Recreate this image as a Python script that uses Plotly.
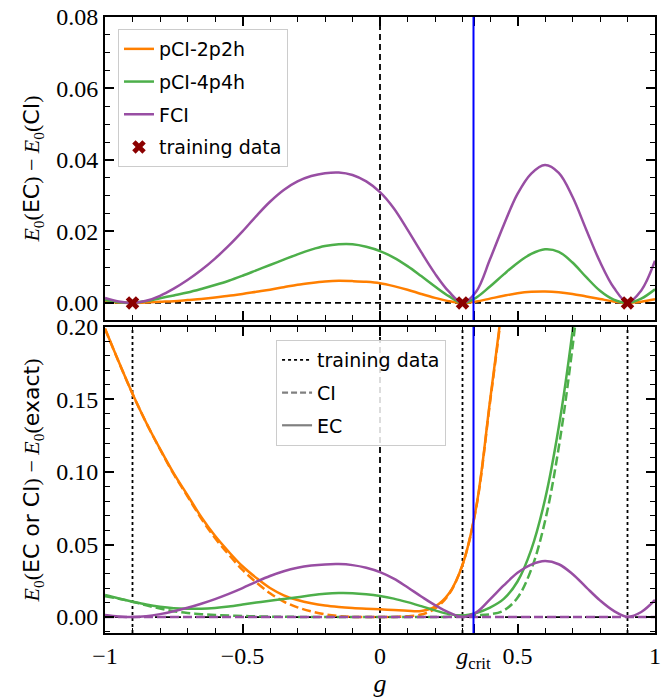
import plotly.graph_objects as go

# ---------------- data ----------------
g = [-1.00, -0.95, -0.90, -0.85, -0.80, -0.75, -0.70, -0.65, -0.60, -0.55,
     -0.50, -0.45, -0.40, -0.35, -0.30, -0.25, -0.20, -0.15, -0.10, -0.05,
     0.00, 0.05, 0.10, 0.15, 0.20, 0.25, 0.30, 0.35, 0.40, 0.45,
     0.50, 0.55, 0.60, 0.65, 0.70, 0.75, 0.80, 0.85, 0.90, 0.95, 1.00]

# E0(EC) - E0(CI)   (top panel)
diff_2p2h = [0.0003, 0.0001, 0.0, 0.0001, 0.0003, 0.0005, 0.0008, 0.0011, 0.0015, 0.0020,
             0.0025, 0.0031, 0.0037, 0.0044, 0.0051, 0.0056, 0.0060, 0.0062, 0.0061, 0.0059,
             0.0055, 0.0047, 0.0037, 0.0025, 0.0014, 0.0005, 0.0, 0.0004, 0.0012, 0.0020,
             0.0027, 0.0031, 0.0032, 0.0030, 0.0025, 0.0018, 0.0011, 0.0004, 0.0, 0.0003, 0.0010]
diff_4p4h = [0.0008, 0.0002, 0.0, 0.0005, 0.0013, 0.0021, 0.0029, 0.0039, 0.0050, 0.0062,
             0.0076, 0.0091, 0.0106, 0.0121, 0.0136, 0.0149, 0.0159, 0.0164, 0.0164, 0.0157,
             0.0145, 0.0127, 0.0103, 0.0075, 0.0046, 0.0019, 0.0, 0.0015, 0.0046, 0.0080,
             0.0112, 0.0137, 0.0150, 0.0143, 0.0113, 0.0072, 0.0034, 0.0009, 0.0, 0.0012, 0.0038]
diff_fci = [0.0014, 0.0004, 0.0, 0.0006, 0.0020, 0.0040, 0.0064, 0.0092, 0.0124, 0.0160,
            0.0200, 0.0243, 0.0283, 0.0316, 0.0340, 0.0355, 0.0363, 0.0365, 0.0358, 0.0340,
            0.0310, 0.0265, 0.0205, 0.0142, 0.0082, 0.0032, 0.0, 0.0032, 0.0122, 0.0218,
            0.0305, 0.0362, 0.0386, 0.0364, 0.0297, 0.0205, 0.0115, 0.0043, 0.0002, 0.0035, 0.0118]

# E0(EC or CI) - E0(exact)   (bottom panel)
ec_2p2h = [0.199, 0.176, 0.154, 0.134, 0.116, 0.099, 0.084, 0.069, 0.056, 0.045,
           0.035, 0.027, 0.020, 0.015, 0.0118, 0.0095, 0.0079, 0.0069, 0.0062, 0.0057,
           0.0053, 0.0048, 0.0043, 0.0042, 0.0072, 0.016, 0.036, 0.076, 0.149, 0.225,
           0.32, None, None, None, None, None, None, None, None, None, None]
ci_2p2h = [0.1987, 0.1759, 0.154, 0.1339, 0.1157, 0.0985, 0.0833, 0.0679, 0.0545, 0.0430,
           0.0325, 0.0239, 0.0164, 0.0107, 0.0067, 0.0039, 0.0019, 0.0007, 0.0001, 0.0,
           0.0, 0.0001, 0.0006, 0.0017, 0.0058, 0.0155, 0.036, 0.0756, 0.1478, 0.2230,
           0.3173, None, None, None, None, None, None, None, None, None, None]
ec_4p4h = [0.0152, 0.0128, 0.0106, 0.0086, 0.0071, 0.0061, 0.0057, 0.0057, 0.0063, 0.0073,
           0.0086, 0.0100, 0.0113, 0.0125, 0.0137, 0.0150, 0.0160, 0.0165, 0.0164, 0.0157,
           0.0145, 0.0127, 0.0103, 0.0075, 0.0046, 0.0020, 0.0010, 0.0028, 0.0065, 0.0125,
           0.0245, 0.0465, 0.081, 0.131, 0.197, 0.28, None, None, None, None, None]
ci_4p4h = [0.0144, 0.0126, 0.0106, 0.0081, 0.0058, 0.0040, 0.0028, 0.0020, 0.0014, 0.0010,
           0.0007, 0.0005, 0.0003, 0.0002, 0.0001, 0.0, 0.0, 0.0, 0.0, 0.0,
           0.0, 0.0, 0.0, 0.0, 0.0, 0.0002, 0.0010, 0.0013, 0.0019, 0.0045,
           0.0133, 0.0328, 0.066, 0.117, 0.186, 0.272, None, None, None, None, None]
ec_fci = diff_fci
ci_fci = [0.0] * len(g)

training_g = [-0.9, 0.3, 0.9]
training_diff = [0.0, 0.0, 0.0]
g_crit = 0.34

x_tickvals = [-1, -0.5, 0, g_crit, 0.5, 1]
x_ticktext = ["\u22121", "\u22120.5", "0", "<i>g</i><sub>crit</sub>", "0.5", "1"]

# ---------------- styling ----------------
C_ORANGE = "#ff7f00"
C_GREEN = "#4daf4a"
C_PURPLE = "#984ea3"
LW = 2.5
SERIF = "Liberation Serif"
SANS = "DejaVu Sans"
SM = 1.0

fig = go.Figure()

# top panel
for name, ys, col, grp in [("pCI-2p2h", diff_2p2h, C_ORANGE, "a"),
                           ("pCI-4p4h", diff_4p4h, C_GREEN, "b"),
                           ("FCI", diff_fci, C_PURPLE, "c")]:
    fig.add_trace(go.Scatter(x=g, y=ys, mode="lines", name=name,
                             line=dict(color=col, width=LW, shape="spline", smoothing=SM),
                             xaxis="x2", yaxis="y2", legend="legend", legendgroup=grp))
fig.add_trace(go.Scatter(x=training_g, y=training_diff, mode="markers", name="training data",
                         marker=dict(symbol="x", size=12, color="#8b0000",
                                     line=dict(width=0)),
                         xaxis="x2", yaxis="y2", legend="legend", legendgroup="d",
                         cliponaxis=False))

# bottom panel
for ys, col, dash in [(ci_2p2h, C_ORANGE, "9px,4px"), (ec_2p2h, C_ORANGE, "solid"),
                      (ci_4p4h, C_GREEN, "9px,4px"), (ec_4p4h, C_GREEN, "solid"),
                      (ec_fci, C_PURPLE, "solid"), (ci_fci, C_PURPLE, "9px,4px")]:
    fig.add_trace(go.Scatter(x=g, y=ys, mode="lines", showlegend=False,
                             line=dict(color=col, width=LW, dash=dash,
                                       shape="spline", smoothing=SM),
                             xaxis="x", yaxis="y"))

# bottom legend entries
fig.add_trace(go.Scatter(x=[None], y=[None], mode="lines", name="training data",
                         line=dict(color="black", width=1.8, dash="dot"),
                         xaxis="x", yaxis="y", legend="legend2", legendgroup="e"))
fig.add_trace(go.Scatter(x=[None], y=[None], mode="lines", name="CI",
                         line=dict(color="#808080", width=2.2, dash="6px,3px"),
                         xaxis="x", yaxis="y", legend="legend2", legendgroup="f"))
fig.add_trace(go.Scatter(x=[None], y=[None], mode="lines", name="EC",
                         line=dict(color="#808080", width=2.2),
                         xaxis="x", yaxis="y", legend="legend2", legendgroup="g"))

shapes = []
for yref in ["y domain", "y2 domain"]:
    xref = "x" if yref == "y domain" else "x2"
    shapes.append(dict(type="line", xref=xref, yref=yref, x0=0, x1=0, y0=0, y1=1,
                       line=dict(color="black", width=1.8, dash="6px,4px"), layer="below"))
    shapes.append(dict(type="line", xref=xref, yref=yref, x0=g_crit, x1=g_crit, y0=0, y1=1,
                       line=dict(color="#0000ff", width=2), layer="above"))
for yref, xref, yv in [("y", "x domain", 0), ("y2", "x2 domain", 0)]:
    shapes.append(dict(type="line", xref=xref, yref=yref, x0=0, x1=1, y0=yv, y1=yv,
                       line=dict(color="black", width=1.8, dash="6px,4px"), layer="below"))
for tg in training_g:
    shapes.append(dict(type="line", xref="x", yref="y domain", x0=tg, x1=tg, y0=0, y1=1,
                       line=dict(color="black", width=1.8, dash="dot"), layer="below"))

tickfont = dict(family=SERIF, size=24, color="black")
common_x = dict(range=[-1, 1], tickmode="array", tickvals=x_tickvals, ticktext=x_ticktext,
                ticks="inside", ticklen=9, tickwidth=1.5, tickcolor="black",
                minor=dict(ticks="inside", ticklen=5, tickwidth=1.2, tickcolor="black",
                           tickmode="linear", tick0=-1, dtick=0.1),
                showline=True, linewidth=2, linecolor="black", mirror="allticks",
                showgrid=False, zeroline=False, tickfont=tickfont, automargin=False,
                ticklabeloverflow="allow")
common_y = dict(ticks="inside", ticklen=9, tickwidth=1.5, tickcolor="black",
                showline=True, linewidth=2, linecolor="black", mirror="allticks",
                showgrid=False, zeroline=False, tickfont=tickfont, tickformat=".2f",
                ticklabelstandoff=0, automargin=False, ticklabeloverflow="allow")

ytitle_top = ('<span style="font-family:Liberation Serif"><i>E</i><sub>0</sub>(</span>EC'
              '<span style="font-family:Liberation Serif">) \u2212 <i>E</i><sub>0</sub>(</span>CI'
              '<span style="font-family:Liberation Serif">)</span>')
ytitle_bot = ('<span style="font-family:Liberation Serif"><i>E</i><sub>0</sub>(</span>EC or CI'
              '<span style="font-family:Liberation Serif">) \u2212 <i>E</i><sub>0</sub>(</span>exact'
              '<span style="font-family:Liberation Serif">)</span>')

fig.update_layout(
    width=662, height=698,
    margin=dict(l=105, r=7, t=17, b=65, autoexpand=False),
    plot_bgcolor="white", paper_bgcolor="white",
    font=dict(family=SANS, color="black"),
    shapes=shapes,
    xaxis=dict(common_x, anchor="y", domain=[0, 1], ticklabelstandoff=0,
               title=dict(text="<i>g</i>", font=dict(family=SERIF, size=26), standoff=6)),
    xaxis2=dict(common_x, anchor="y2", domain=[0, 1], matches="x", showticklabels=False),
    yaxis=dict(common_y, anchor="x", domain=[0, 0.4968], range=[-0.011, 0.2],
               tickmode="linear", tick0=0, dtick=0.05,
               minor=dict(ticks="inside", ticklen=5, tickwidth=1.2, tickcolor="black",
                          tickmode="linear", tick0=0, dtick=0.01),
               title=dict(text=ytitle_bot, font=dict(family=SANS, size=22), standoff=10)),
    yaxis2=dict(common_y, anchor="x2", domain=[0.508, 1], range=[-0.0048, 0.08],
                tickmode="linear", tick0=0, dtick=0.02,
                minor=dict(ticks="inside", ticklen=5, tickwidth=1.2, tickcolor="black",
                           tickmode="linear", tick0=0, dtick=0.005),
                title=dict(text=ytitle_top, font=dict(family=SANS, size=22), standoff=10)),
    legend=dict(x=0.0236, y=0.9805, xanchor="left", yanchor="top",
                bgcolor="rgba(255,255,255,0.85)", bordercolor="#cccccc", borderwidth=1,
                font=dict(family=SANS, size=19, color="black"),
                traceorder="grouped", tracegroupgap=5),
    legend2=dict(x=0.311, y=0.4756, xanchor="left", yanchor="top",
                 bgcolor="rgba(255,255,255,0.85)", bordercolor="#cccccc", borderwidth=1,
                 font=dict(family=SANS, size=19, color="black"),
                 traceorder="grouped", tracegroupgap=5),
)

# remove the default 8px page margin so the figure fills the window exactly
fig.write_html("out.html", config={"displayModeBar": False},
               post_script="document.body.style.margin='0';document.body.style.overflow='hidden';")
